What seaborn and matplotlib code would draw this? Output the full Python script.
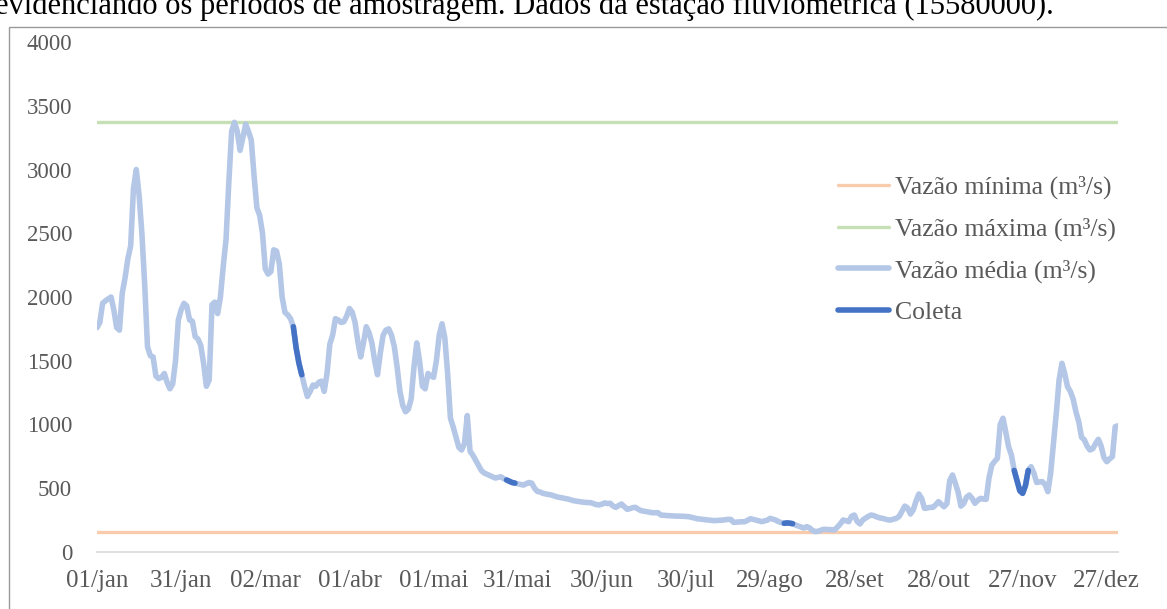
import numpy as np
import pandas as pd
import matplotlib
matplotlib.use("Agg")
import matplotlib.pyplot as plt
from matplotlib.patches import Rectangle
import seaborn as sns

# ---------------- data ----------------
dias = [0, 1, 2, 3, 5, 6, 7, 8, 9, 10, 11, 12, 13, 14, 15, 16, 17, 18, 19, 20,
        21, 22, 23, 24, 25, 26, 27, 28, 29, 30, 31, 32, 33, 34, 35, 36, 37, 38, 39, 40,
        41, 42, 43, 44, 45, 46, 47, 48, 49, 50, 51, 52, 53, 54, 55, 56, 57, 58, 59, 60,
        61, 62, 63, 64, 65, 66, 67, 68, 69, 70, 71, 72, 73, 74, 75, 76, 77, 78, 79, 80,
        81, 82, 83, 84, 85, 86, 87, 88, 89, 90, 91, 92, 93, 94, 95, 96, 97, 98, 99, 100,
        101, 102, 103, 104, 105, 106, 107, 108, 109, 110, 111, 112, 113, 114, 115, 116, 117, 118, 119, 120,
        121, 122, 123, 124, 125, 126, 127, 128, 129, 130, 131, 132, 133, 134, 135, 136, 137, 138, 139, 140,
        141, 142, 143, 144, 145, 146, 147, 148, 149, 150, 151, 152, 153, 154, 155, 156, 157, 158, 159, 160,
        162, 164, 166, 168, 170, 172, 174, 176, 178, 179, 180, 181, 182, 183, 184, 185, 186, 187, 188, 189,
        190, 191, 192, 193, 194, 196, 198, 200, 201, 203, 206, 209, 211, 214, 217, 220, 223, 225, 226, 227,
        229, 231, 233, 235, 237, 239, 240, 242, 243, 244, 245, 246, 247, 248, 249, 250, 252, 253, 254, 255,
        256, 257, 259, 261, 263, 265, 266, 267, 268, 269, 270, 271, 272, 273, 274, 275, 276, 277, 278, 279,
        280, 282, 283, 284, 285, 286, 287, 288, 289, 290, 291, 292, 293, 294, 295, 296, 297, 298, 299, 300,
        301, 302, 303, 304, 305, 306, 307, 308, 309, 310, 311, 312, 313, 314, 315, 316, 317, 318, 319, 320,
        321, 322, 323, 324, 325, 326, 327, 328, 329, 330, 331, 332, 333, 334, 335, 336, 337, 338, 339, 340,
        341, 342, 343, 344, 345, 346, 347, 348, 349, 350, 351, 352, 353, 354, 355, 356, 357, 358, 359, 360,
        361, 362, 363, 364]

vazao_media = [1760, 1800, 1950, 1970, 2000, 1900, 1760, 1740, 2030, 2150, 2300, 2400, 2850, 3000, 2800, 2500, 2100, 1610, 1540, 1530,
               1380, 1360, 1370, 1400, 1330, 1280, 1320, 1500, 1820, 1900, 1950, 1930, 1820, 1810, 1690, 1670, 1620, 1480, 1300, 1350,
               1940, 1960, 1870, 2000, 2240, 2450, 2900, 3300, 3370, 3300, 3150, 3250, 3355, 3300, 3230, 2950, 2700, 2640, 2500, 2220,
               2180, 2200, 2370, 2360, 2260, 2000, 1880, 1860, 1830, 1767, 1600, 1480, 1390, 1300, 1220, 1260, 1310, 1300, 1330, 1340,
               1260, 1400, 1630, 1700, 1830, 1820, 1800, 1806, 1850, 1910, 1880, 1800, 1650, 1530, 1640, 1767, 1720, 1640, 1500, 1390,
               1560, 1700, 1740, 1750, 1700, 1610, 1450, 1260, 1150, 1100, 1120, 1200, 1450, 1640, 1500, 1300, 1280, 1400, 1380, 1370,
               1500, 1700, 1790, 1680, 1400, 1050, 980, 900, 820, 800, 850, 1070, 790, 760, 720, 680, 640, 620, 610, 600,
               590, 580, 585, 590, 575, 565, 555, 545, 540, 535, 530, 525, 535, 545, 540, 500, 475, 470, 460, 455,
               447, 432, 424, 415, 402, 395, 389, 387, 372, 369, 375, 385, 380, 382, 360, 350, 365, 376, 355, 335,
               340, 348, 350, 335, 324, 316, 308, 308, 290, 286, 282, 280, 277, 261, 253, 246, 250, 256, 255, 232,
               236, 238, 261, 250, 238, 250, 264, 250, 238, 230, 225, 228, 226, 222, 212, 204, 188, 199, 190, 170,
               160, 162, 178, 176, 173, 220, 251, 245, 238, 280, 290, 240, 220, 251, 265, 280, 290, 285, 275, 268,
               264, 252, 251, 258, 264, 280, 320, 360, 345, 298, 330, 400, 455, 420, 343, 345, 350, 350, 370, 395,
               375, 355, 380, 560, 604, 540, 470, 360, 380, 430, 447, 420, 382, 405, 421, 415, 413, 580, 680, 710,
               735, 1000, 1049, 940, 826, 760, 640, 560, 480, 460, 520, 640, 669, 620, 545, 550, 552, 530, 473, 620,
               850, 1088, 1350, 1480, 1400, 1297, 1260, 1200, 1100, 1022, 900, 880, 830, 800, 810, 850, 884, 830, 740, 708,
               730, 748, 983, 990]

vazao_minima = 160
vazao_maxima = 3370

coleta_inicio = [70, 146, 245, 327]
coleta_fim = [73, 149, 248, 332]

rotulos_x = ["01/jan", "31/jan", "02/mar", "01/abr", "01/mai", "31/mai", "30/jun",
             "30/jul", "29/ago", "28/set", "28/out", "27/nov", "27/dez"]
ticks_y = [0, 500, 1000, 1500, 2000, 2500, 3000, 3500, 4000]

legenda = ["Vazão mínima (m³/s)", "Vazão máxima (m³/s)", "Vazão média (m³/s)", "Coleta"]

# ---------------- style ----------------
sns.set_theme(style="white")
plt.rcParams["font.family"] = ["Liberation Serif", "DejaVu Serif"]
cinza = "#595959"

W, H = 1167, 609
fig = plt.figure(figsize=(W / 100, H / 100), dpi=100)
ax = fig.add_axes([97 / W, 1 - 552 / H, (1118 - 97) / W, (552 - 42) / H])

df = pd.DataFrame({"dia": dias, "vazao": vazao_media})
dmin = pd.DataFrame({"dia": [dias[0], dias[-1]], "vazao": [vazao_minima, vazao_minima]})
dmax = pd.DataFrame({"dia": [dias[0], dias[-1]], "vazao": [vazao_maxima, vazao_maxima]})

c_min = "#F8CBAD"
c_max = "#C5E0B4"
c_med = "#B4C7E7"
c_col = "#4472C4"

sns.lineplot(data=dmin, x="dia", y="vazao", ax=ax, color=c_min, lw=2.4, label=legenda[0])
sns.lineplot(data=dmax, x="dia", y="vazao", ax=ax, color=c_max, lw=2.4, label=legenda[1])
sns.lineplot(data=df, x="dia", y="vazao", ax=ax, color=c_med, lw=4.0, label=legenda[2],
             solid_capstyle="round", solid_joinstyle="round")
for k, (a, b) in enumerate(zip(coleta_inicio, coleta_fim)):
    seg = df[(df["dia"] >= a) & (df["dia"] <= b)]
    sns.lineplot(data=seg, x="dia", y="vazao", ax=ax, color=c_col, lw=4.0,
                 label=legenda[3] if k == 0 else None,
                 solid_capstyle="round", solid_joinstyle="round")

ax.set_xlim(0, 364)
ax.set_ylim(0, 4000)
ax.set_xticks(np.arange(len(rotulos_x)) * 30)
ax.set_xticklabels(rotulos_x)
ax.set_yticks(ticks_y)
ax.set_yticklabels([str(v) for v in ticks_y])
ax.set_xlabel("")
ax.set_ylabel("")
ax.tick_params(axis="x", length=0, pad=13, labelsize=18, labelcolor=cinza)
ax.tick_params(axis="y", length=0, pad=18, labelsize=16.5, labelcolor=cinza)
for s in ["top", "right", "left"]:
    ax.spines[s].set_visible(False)
ax.spines["bottom"].set_color("#D9D9D9")
ax.spines["bottom"].set_linewidth(1.2)
ax.grid(False)

leg = ax.legend(loc="center left", bbox_to_anchor=(838 / W, 1 - 250 / H),
                bbox_transform=fig.transFigure, frameon=False, fontsize=18.5,
                handlelength=2.0, handletextpad=0.2, labelspacing=0.72,
                borderpad=0, borderaxespad=0)
for t in leg.get_texts():
    t.set_color(cinza)

# outer frame of chart area
fig.patches.append(Rectangle((9 / W, -0.05), 1.1, 1 - 27 / H + 0.05, transform=fig.transFigure,
                             fill=False, edgecolor="#9A9A9A", lw=1.0, clip_on=False))

# caption text cut at top of the picture
fig.text(-0.004, 1 - 14 / H, "evidenciando os períodos de amostragem. Dados da estação fluviométrica (15580000).",
         fontsize=22, color="black", ha="left", va="baseline")

fig.savefig("out.png", dpi=100)
